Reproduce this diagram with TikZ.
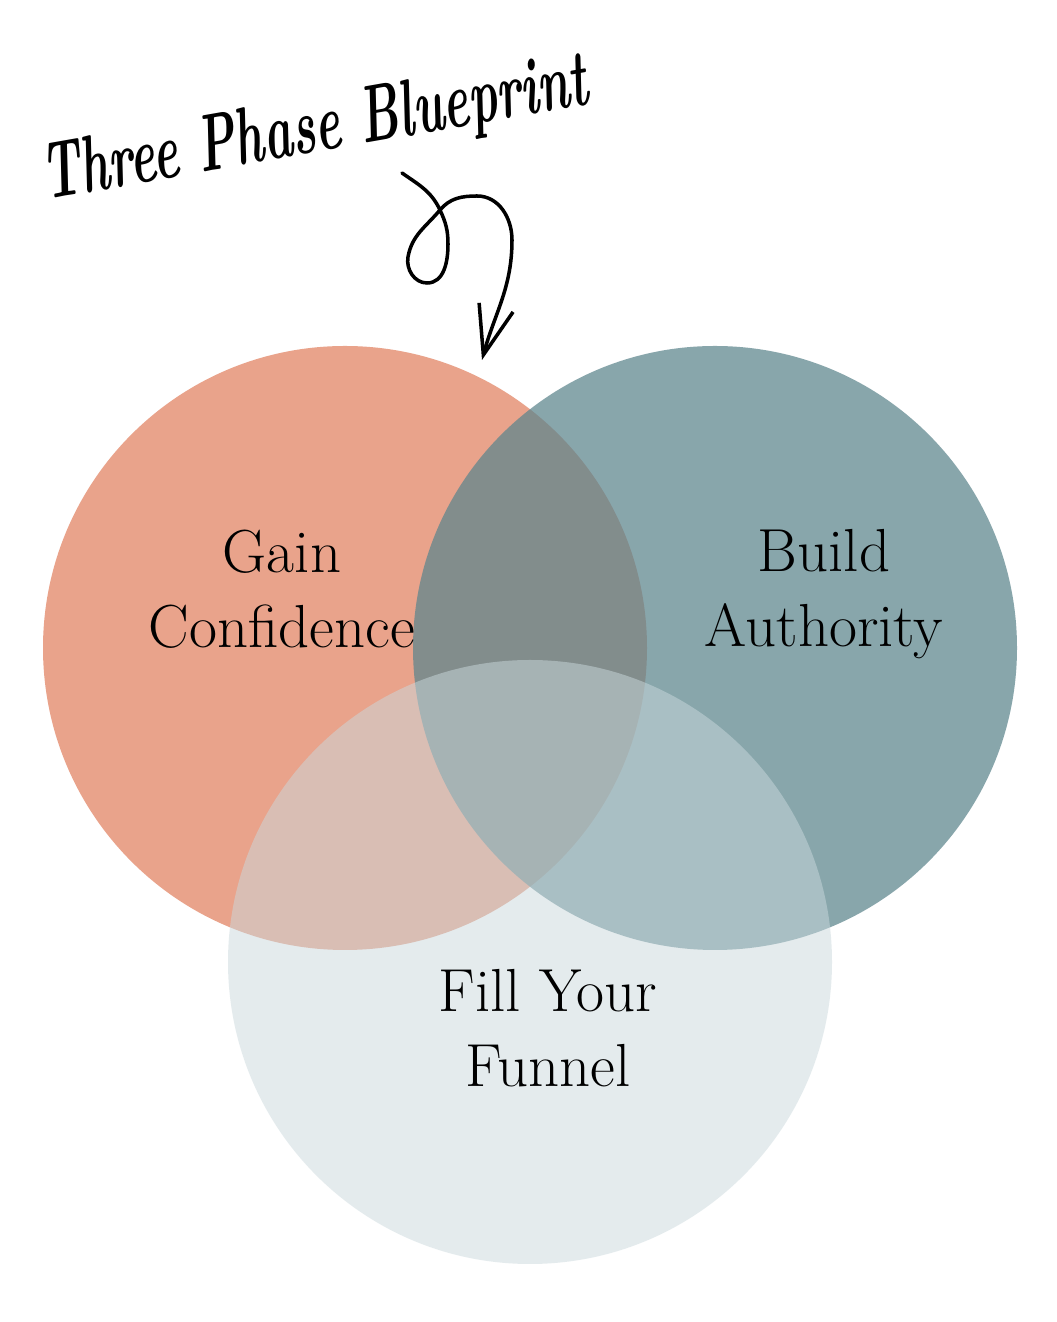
\documentclass[tikz,border=0pt]{standalone}
\usetikzlibrary{arrows.meta}
\definecolor{gainorange}{RGB}{233,163,139}
\definecolor{authteal}{RGB}{93,133,141}
\definecolor{funnelgrey}{RGB}{203,217,221}
\begin{document}
\begin{tikzpicture}[phase/.style={circle,minimum size=6.04cm,inner sep=0pt},
      phaselabel/.style={align=center,anchor=north,inner sep=0pt,font=\fontsize{17.3}{21.3}\selectfont}]
      \useasboundingbox[fill=white] (0,0) rectangle (10.57,13.22);
      \node[phase,fill=gainorange] (gain) at (3.45,6.74) {};
      \node[phase,fill=authteal,fill opacity=0.73] (auth) at (7.15,6.74) {};
      \node[phase,fill=funnelgrey,fill opacity=0.5] (funnel) at (5.30,3.60) {};
      \node[phaselabel] (gaintext) at (2.82,7.93) {Gain\\Confidence};
      \node[phaselabel] (authtext) at (8.24,7.93) {Build\\Authority};
      \node[phaselabel] (funneltext) at (5.48,3.53) {Fill Your\\Funnel};
      \node[rotate=10,xscale=0.6,font=\fontsize{23}{26}\selectfont\bfseries\itshape] (title) at (3.15,11.90) {Three Phase Blueprint};
      \coordinate (swirl) at (4.02,11.49);
      \coordinate (tip) at (4.82,9.62);
      \draw[line width=1pt,line cap=round,-{Straight Barb[length=14pt,width=10pt]}] (swirl)
        to[out=-35,in=115] (4.40,11.12) to[out=-65,in=90] (4.48,10.78)
        to[out=-90,in=0] (4.27,10.39) to[out=180,in=-100] (4.08,10.65)
        to[out=80,in=-130] (4.40,11.12) to[out=50,in=180] (4.77,11.26)
        to[out=0,in=90] (5.12,10.82) to[out=-90,in=75] (tip);
    \end{tikzpicture}
\end{document}
